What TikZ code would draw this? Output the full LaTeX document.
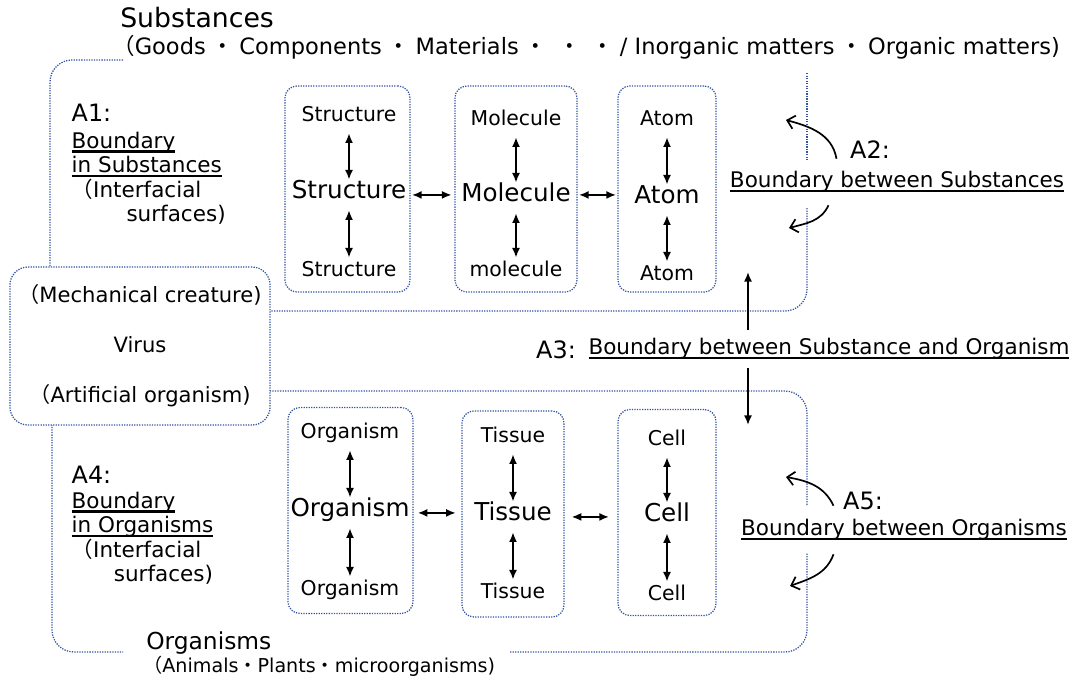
\documentclass[tikz,border=0pt]{standalone}
\usepackage{fontspec}
\setmainfont{DejaVu Sans}
\newfontfamily\jpfont{Noto Sans CJK JP}
\usetikzlibrary{arrows.meta,positioning}
\definecolor{dotblue}{RGB}{50,85,160}
\newcommand\lpar{{\jpfont （}}
\newcommand\mdot{{\jpfont ・}}
\newcommand\wdot{\hspace{4pt}{\jpfont ・}\hspace{4pt}}
\newcommand\uln[1]{\sbox0{#1}\rlap{\rule[-3.2pt]{\wd0}{1.7pt}}\usebox0}

\begin{document}
\begin{tikzpicture}[
    x=0.025cm,y=-0.025cm,
    dotbox/.style={draw=dotblue,line width=0.9pt,dash pattern=on 0.9pt off 0.9pt},
    unit/.style={dotbox,rounded corners=0.3cm,minimum height=5.15cm},
    small/.style={font=\fontsize{14.5}{17}\selectfont,inner sep=1pt,text height=0.75em,text depth=0.2em,yshift=-3.5pt},
    big/.style={font=\fontsize{17.5}{20}\selectfont,inner sep=1pt,text height=0.75em,text depth=0.2em,yshift=-3.5pt},
    lbl/.style={font=\fontsize{15.3}{17.5}\selectfont,inner sep=1pt},
    tag/.style={font=\fontsize{17}{20}\selectfont,inner sep=1pt},
    dbl/.style={{Latex[length=2.4mm,width=2mm]}-{Latex[length=2.4mm,width=2mm]},line width=1.2pt},
    sgl/.style={-{Latex[length=2.4mm,width=2mm]},line width=1.2pt},
    bendarr/.style={-{Straight Barb[length=1.8mm,width=3.4mm]},line width=1.2pt}
  ]
  \useasboundingbox (0,0) rectangle (1074,680);

  % outer regions (gaps left for the titles and labels)
  \draw[dotbox,rounded corners=0.55cm] (123,60) -- (50,60) -- (50,311) -- (807,311) -- (807,207);
  \draw[dotbox] (807,73) -- (807,160);
  \draw[dotbox,rounded corners=0.55cm] (807,505) -- (807,391) -- (52,391) -- (52,652) -- (123,652);
  \draw[dotbox,rounded corners=0.55cm] (510,652) -- (807,652) -- (807,553);
  \node[dotbox,fill=white,rounded corners=0.45cm,minimum width=6.5cm,minimum height=3.95cm,
    align=center,font=\fontsize{15}{35.5}\selectfont] (virus) at (140,346)
    {\lpar Mechanical creature)\\Virus\\\lpar Artificial organism)};

  % region titles
  \node[anchor=west,inner sep=0pt,font=\fontsize{19}{22}\selectfont] (subst) at (120,18) {Substances};
  \node[anchor=west,inner sep=0pt,text height=0.72em,text depth=0.22em,font=\fontsize{16}{18}\selectfont] (goods) at (112,51)
    {\lpar Goods\wdot Components\wdot Materials\wdot\wdot\wdot/ Inorganic matters\wdot Organic matters)};
  \node[anchor=west,inner sep=0pt,font=\fontsize{16.6}{19}\selectfont] (orgs) at (146,643) {Organisms};
  \node[anchor=west,inner sep=0pt,text height=0.72em,text depth=0.22em,font=\fontsize{13.6}{16}\selectfont] (anim) at (143,669)
    {\lpar Animals\mdot Plants\mdot microorganisms)};

  % substance units
  \node[unit,minimum width=3.125cm] (b1) at (347.5,189) {};
  \node[unit,minimum width=3.05cm] (b2) at (516,189) {};
  \node[unit,minimum width=2.45cm] (b3) at (667,189) {};
  \node[small] (st1) at (349,113) {Structure};
  \node[big] (st2) at (349,190) {Structure};
  \node[small] (st3) at (349,268) {Structure};
  \node[small] (mo1) at (516,117) {Molecule};
  \node[big] (mo2) at (516,193) {Molecule};
  \node[small] (mo3) at (516,268) {molecule};
  \node[small] (at1) at (667,117) {Atom};
  \node[big] (at2) at (667,195) {Atom};
  \node[small] (at3) at (667,272) {Atom};

  % organism units
  \node[unit,minimum width=3.125cm] (b4) at (350.5,510.5) {};
  \node[unit,minimum width=2.55cm] (b5) at (513,514) {};
  \node[unit,minimum width=2.45cm] (b6) at (667,512.5) {};
  \node[small] (or1) at (350,430) {Organism};
  \node[big] (or2) at (350,508) {Organism};
  \node[small] (or3) at (350,587) {Organism};
  \node[small] (ti1) at (513,434) {Tissue};
  \node[big] (ti2) at (513,512) {Tissue};
  \node[small] (ti3) at (513,590) {Tissue};
  \node[small] (ce1) at (667,437) {Cell};
  \node[big] (ce2) at (667,513) {Cell};
  \node[small] (ce3) at (667,592) {Cell};

  \foreach \a/\b in {st1/st2,st2/st3,mo1/mo2,mo2/mo3,at1/at2,at2/at3,
                     or1/or2,or2/or3,ti1/ti2,ti2/ti3,ce1/ce2,ce2/ce3}
    \draw[dbl,shorten <=5pt,shorten >=5pt] (\a) -- (\b);
  \draw[dbl,shorten <=1pt,shorten >=2pt] (b1.east |- st2.center) -- (b2.west |- st2.center);
  \draw[dbl,shorten <=1pt,shorten >=1pt] (b2.east |- st2.center) -- (b3.west |- st2.center);
  \draw[dbl,shorten <=3pt,shorten >=4pt] (b4.east |- or2.center) -- (b5.west |- or2.center);
  \draw[dbl,shorten <=5pt,shorten >=6pt] (b5.east |- ti2.center) -- (b6.west |- ti2.center);

  % boundary labels
  \node[tag,anchor=west] (a1) at (70,113) {A1:};
  \node[lbl,align=left,anchor=north west] (a1txt) at (70,130)
    {\uln{Boundary}\\\uln{in Substances}\\\lpar Interfacial\\\hspace{39pt}surfaces)};
  \node[tag,anchor=west] (a4) at (70,475) {A4:};
  \node[lbl,align=left,anchor=north west] (a4txt) at (70,490)
    {\uln{Boundary}\\\uln{in Organisms}\\\lpar Interfacial\\\hspace{30pt}surfaces)};

  \node[lbl,minimum height=1.15cm] (a2txt) at (897,182) {\uln{Boundary between Substances}};
  \node[tag] (a2) at (870,150) {A2:};
  \node[tag] (a3) at (556,350) {A3:};
  \node[lbl,minimum height=0.95cm] (a3txt) at (829,349) {\uln{Boundary between Substance and Organism}};
  \node[lbl,minimum height=1.2cm] (a5txt) at (904,530) {\uln{Boundary between Organisms}};
  \node[tag] (a5) at (863,501) {A5:};

  \coordinate (a2up) at (786,120);
  \coordinate (a2dn) at (789,228);
  \coordinate (a3up) at (748,272);
  \coordinate (a3dn) at (748,425);
  \coordinate (a5up) at (786,477);
  \coordinate (a5dn) at (790,586);

  \draw[bendarr] ([xshift=-0.3cm]a2txt.north -| a2.west) to[out=100,in=-15] (a2up);
  \draw[bendarr] ([xshift=-0.5cm]a2txt.south -| a2.west) to[out=-115,in=15] (a2dn);
  \draw[sgl] (a3txt.north -| a3up) -- (a3up);
  \draw[sgl] (a3txt.south -| a3dn) -- (a3dn);
  \draw[bendarr] ([xshift=-0.2cm]a5txt.north -| a5.west) to[out=115,in=-10] (a5up);
  \draw[bendarr] ([xshift=-0.2cm]a5txt.south -| a5.west) to[out=-110,in=20] (a5dn);
\end{tikzpicture}
\end{document}
